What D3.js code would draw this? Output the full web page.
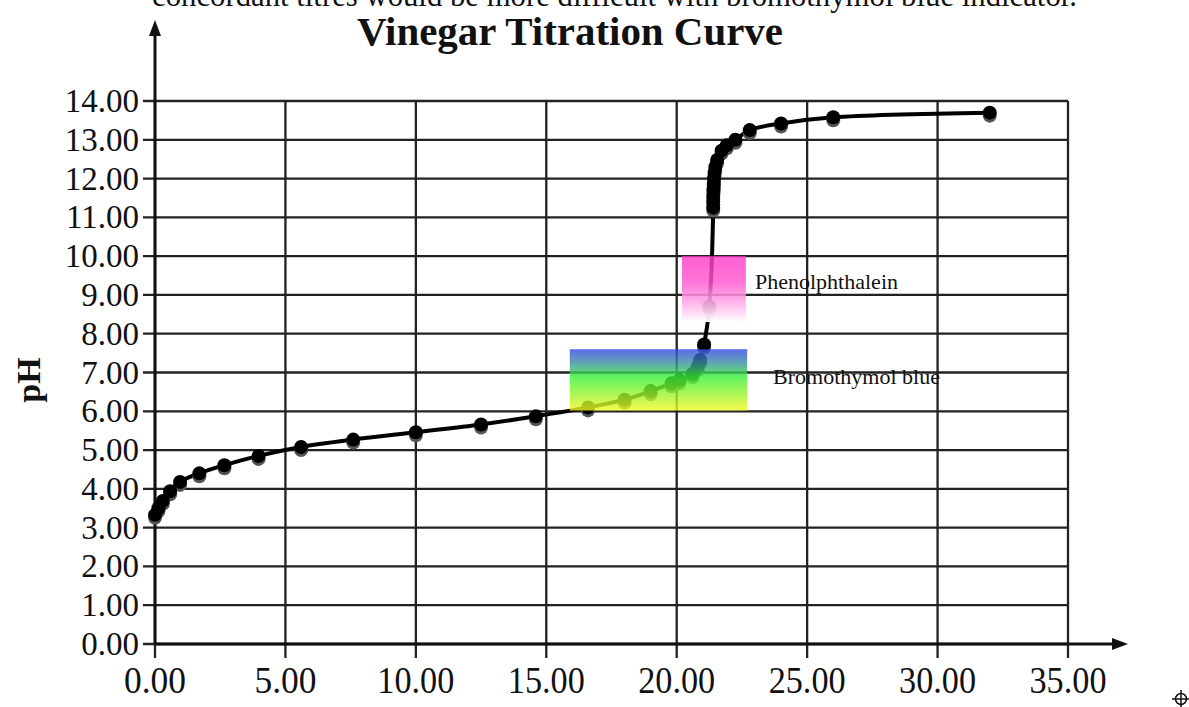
<!DOCTYPE html>
<html>
<head>
<meta charset="utf-8">
<script src="https://cdn.jsdelivr.net/npm/d3@7/dist/d3.min.js"></script>
<style>
  html, body { margin: 0; padding: 0; background: #fff; }
  svg { display: block; }
  text { font-family: "Liberation Serif", "Times New Roman", serif; fill: #111; }
</style>
</head>
<body>
<div id="chart"></div>
<script>
// titration data (mL NaOH added vs pH)
const volume = [0, 0.13, 0.3, 0.58, 0.96, 1.7, 2.66, 3.97, 5.6, 7.6, 10.0, 12.5, 14.6,
  16.6, 18.0, 19.0, 19.8, 20.1, 20.6, 20.8, 20.9, 21.05, 21.25,
  21.4, 21.4, 21.4, 21.41, 21.42, 21.43, 21.45, 21.48, 21.55, 21.72, 21.92, 22.25,
  22.8, 24.0, 26.0, 32.0];
const pH = [3.33, 3.5, 3.69, 3.94, 4.18, 4.40, 4.61, 4.85, 5.08, 5.27, 5.46, 5.66, 5.87,
  6.1, 6.3, 6.52, 6.72, 6.8, 6.96, 7.14, 7.32, 7.72, 8.7,
  11.25, 11.4, 11.55, 11.7, 11.85, 12.0, 12.15, 12.3, 12.48, 12.72, 12.86, 13.0,
  13.25, 13.42, 13.58, 13.7];

const xTicks = [0, 5, 10, 15, 20, 25, 30, 35];
const yTicks = d3.range(0, 15);

// indicator colour ranges: [vol from, vol to, pH low, pH high]
const phenolRange = [20.2, 22.65, 8.3, 10.0];
const bromoRange = [15.9, 22.7, 6.02, 7.6];

const width = 1189, height = 707;
const svg = d3.select('#chart').append('svg')
  .attr('width', width)
  .attr('height', height);

const x = d3.scaleLinear().domain([0, 35]).range([155, 1068]);
const y = d3.scaleLinear().domain([0, 14]).range([644, 101]);

const defs = svg.append('defs');
const gPh = defs.append('linearGradient').attr('id', 'phenol')
  .attr('x1', 0).attr('y1', 0).attr('x2', 0).attr('y2', 1);
gPh.append('stop').attr('offset', '0%').attr('stop-color', '#ff3cc8').attr('stop-opacity', 0.82);
gPh.append('stop').attr('offset', '40%').attr('stop-color', '#ff58d0').attr('stop-opacity', 0.82);
gPh.append('stop').attr('offset', '100%').attr('stop-color', '#ffffff').attr('stop-opacity', 0.97);

const gBr = defs.append('linearGradient').attr('id', 'bromo')
  .attr('x1', 0).attr('y1', 0).attr('x2', 0).attr('y2', 1);
gBr.append('stop').attr('offset', '0%').attr('stop-color', '#3048e8');
gBr.append('stop').attr('offset', '22%').attr('stop-color', '#3a8ca0');
gBr.append('stop').attr('offset', '45%').attr('stop-color', '#38f038');
gBr.append('stop').attr('offset', '100%').attr('stop-color', '#f4f820');

// text cut off at the very top (it is cropped in the source too)
svg.append('text')
  .attr('x', 152).attr('y', 6)
  .attr('font-size', 31)
  .attr('textLength', 925).attr('lengthAdjust', 'spacingAndGlyphs')
  .text('concordant titres would be more difficult with bromothymol blue indicator.');

// title
svg.append('text')
  .attr('x', 570).attr('y', 45)
  .attr('text-anchor', 'middle')
  .attr('font-size', 40).attr('font-weight', 'bold')
  .attr('textLength', 426).attr('lengthAdjust', 'spacingAndGlyphs')
  .text('Vinegar Titration Curve');

// grid
const grid = svg.append('g').attr('stroke', '#222').attr('stroke-width', 2.3);
grid.selectAll('.hgrid').data(yTicks).enter().append('line')
  .attr('x1', 143).attr('x2', x(35))
  .attr('y1', d => y(d)).attr('y2', d => y(d));
grid.selectAll('.vgrid').data(xTicks).enter().append('line')
  .attr('x1', d => x(d)).attr('x2', d => x(d))
  .attr('y1', y(14)).attr('y2', 658);

// axes with arrows
svg.append('line')
  .attr('x1', x(0)).attr('x2', 1115).attr('y1', y(0)).attr('y2', y(0))
  .attr('stroke', '#111').attr('stroke-width', 3);
svg.append('path')
  .attr('d', `M1128,${y(0)} L1112,${y(0) - 6} L1112,${y(0) + 6} Z`).attr('fill', '#111');
svg.append('line')
  .attr('x1', x(0)).attr('x2', x(0)).attr('y1', y(0)).attr('y2', 32)
  .attr('stroke', '#111').attr('stroke-width', 3);
svg.append('path')
  .attr('d', `M${x(0)},20 L${x(0) - 6},36 L${x(0) + 6},36 Z`).attr('fill', '#111');

// tick labels
svg.selectAll('.ylab').data(yTicks).enter().append('text')
  .attr('x', 139).attr('y', d => y(d) + 11)
  .attr('text-anchor', 'end')
  .attr('font-size', 33)
  .text(d => d3.format('.2f')(d));

svg.selectAll('.xlab').data(xTicks).enter().append('text')
  .attr('x', d => x(d)).attr('y', 693)
  .attr('text-anchor', 'middle')
  .attr('font-size', 37)
  .attr('textLength', d => d < 10 ? 62 : 77).attr('lengthAdjust', 'spacingAndGlyphs')
  .text(d => d3.format('.2f')(d));

// axis title
svg.append('text')
  .attr('transform', 'translate(40,380) rotate(-90)')
  .attr('text-anchor', 'middle')
  .attr('font-size', 34).attr('font-weight', 'bold')
  .text('pH');

// curve
const data = volume.map((v, i) => ({ v: v, p: pH[i] }));
const line = d3.line()
  .x(d => x(d.v)).y(d => y(d.p))
  .curve(d3.curveCatmullRom.alpha(0.5));

svg.append('path')
  .datum(data)
  .attr('d', line)
  .attr('fill', 'none')
  .attr('stroke', '#000')
  .attr('stroke-width', 4);

// markers (grey shadow under each)
svg.selectAll('.shadow').data(data).enter().append('circle')
  .attr('cx', d => x(d.v)).attr('cy', d => y(d.p) + 3)
  .attr('r', 7).attr('fill', '#555');
svg.selectAll('.dot').data(data).enter().append('circle')
  .attr('cx', d => x(d.v)).attr('cy', d => y(d.p))
  .attr('r', 7).attr('fill', '#000');

// indicator boxes
svg.append('rect')
  .attr('x', x(phenolRange[0])).attr('y', y(phenolRange[3]))
  .attr('width', x(phenolRange[1]) - x(phenolRange[0]))
  .attr('height', y(phenolRange[2]) - y(phenolRange[3]))
  .attr('fill', 'url(#phenol)');
svg.append('rect')
  .attr('x', x(bromoRange[0])).attr('y', y(bromoRange[3]))
  .attr('width', x(bromoRange[1]) - x(bromoRange[0]))
  .attr('height', y(bromoRange[2]) - y(bromoRange[3]))
  .attr('fill', 'url(#bromo)').attr('opacity', 0.8);

svg.append('text')
  .attr('x', 755).attr('y', 289)
  .attr('font-size', 22)
  .attr('textLength', 143).attr('lengthAdjust', 'spacingAndGlyphs')
  .text('Phenolphthalein');
svg.append('text')
  .attr('x', 773).attr('y', 384)
  .attr('font-size', 22)
  .attr('textLength', 167).attr('lengthAdjust', 'spacingAndGlyphs')
  .text('Bromothymol blue');

// little move/crosshair icon in the corner
const icon = svg.append('g').attr('transform', 'translate(1181,699)')
  .attr('stroke', '#111').attr('stroke-width', 1.5).attr('fill', 'none');
icon.append('circle').attr('r', 5.5);
icon.append('line').attr('x1', 0).attr('x2', 0).attr('y1', -9).attr('y2', 9);
icon.append('line').attr('x1', -9).attr('x2', 9).attr('y1', 0).attr('y2', 0);
</script>
</body>
</html>
